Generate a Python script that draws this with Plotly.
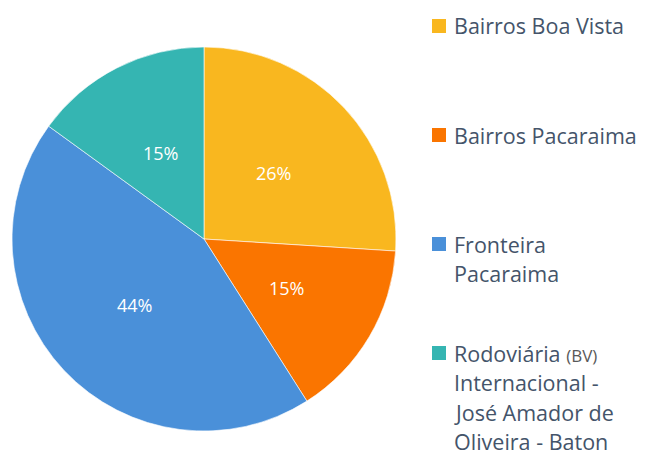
import math
import plotly.graph_objects as go

labels = ["Bairros Boa Vista", "Bairros Pacaraima", "Fronteira Pacaraima",
          "Rodoviária (BV) Internacional - José Amador de Oliveira - Baton"]
values = [26, 15, 44, 15]
colors = ["#F9B71F", "#FA7500", "#4A90D9", "#35B5B2"]
legend_lines = [
    ["Bairros Boa Vista"],
    ["Bairros Pacaraima"],
    ["Fronteira", "Pacaraima"],
    ["Rodoviária <span style='font-size:17px;color:#595959'>(BV)</span>", "Internacional -",
     "José Amador de", "Oliveira - Baton"],
]

W, H = 645, 459
cx, cy, R = 204, 239, 192
FONT = "Open Sans"

fig = go.Figure()
fig.add_trace(go.Pie(
    labels=labels, values=values, sort=False, direction="clockwise", rotation=0,
    marker=dict(colors=colors, line=dict(color="white", width=0.6)),
    textinfo="none",
    domain=dict(x=[(cx - R) / W, (cx + R) / W], y=[(H - cy - R) / H, (H - cy + R) / H]),
    showlegend=False, hoverinfo="label+percent",
))

shapes = []
annotations = []

# percentage labels at half radius, mid-angle of each slice
total = sum(values)
cum = 0
for v in values:
    mid = (cum + v / 2) / total * 2 * math.pi
    cum += v
    px = cx + 0.5 * R * math.sin(mid)
    py = cy - 0.5 * R * math.cos(mid)
    annotations.append(dict(text=f"{round(100 * v / total)}%", xref="paper", yref="paper",
                            x=px / W, y=1 - py / H, xanchor="center", yanchor="middle",
                            showarrow=False, font=dict(family=FONT, size=18, color="white")))

first_y = 26
item_step = 109
line_step = 29.5
for i, lines in enumerate(legend_lines):
    y0 = first_y + i * item_step
    shapes.append(dict(type="rect", xref="paper", yref="paper",
                       x0=432 / W, x1=446 / W, y0=1 - (y0 - 7) / H, y1=1 - (y0 + 7) / H,
                       fillcolor=colors[i], line=dict(width=0)))
    for j, t in enumerate(lines):
        yy = y0 + j * line_step
        annotations.append(dict(text=t, xref="paper", yref="paper", x=453 / W, y=1 - yy / H,
                                xanchor="left", yanchor="middle", showarrow=False, borderpad=0,
                                font=dict(family=FONT, size=21.5, color="#44546A")))

fig.update_layout(width=W, height=H, margin=dict(l=0, r=0, t=0, b=0),
                  paper_bgcolor="white", plot_bgcolor="white",
                  shapes=shapes, annotations=annotations)
fig.write_html("out.html", config={"displayModeBar": False},
               post_script="document.body.style.margin='0';")
